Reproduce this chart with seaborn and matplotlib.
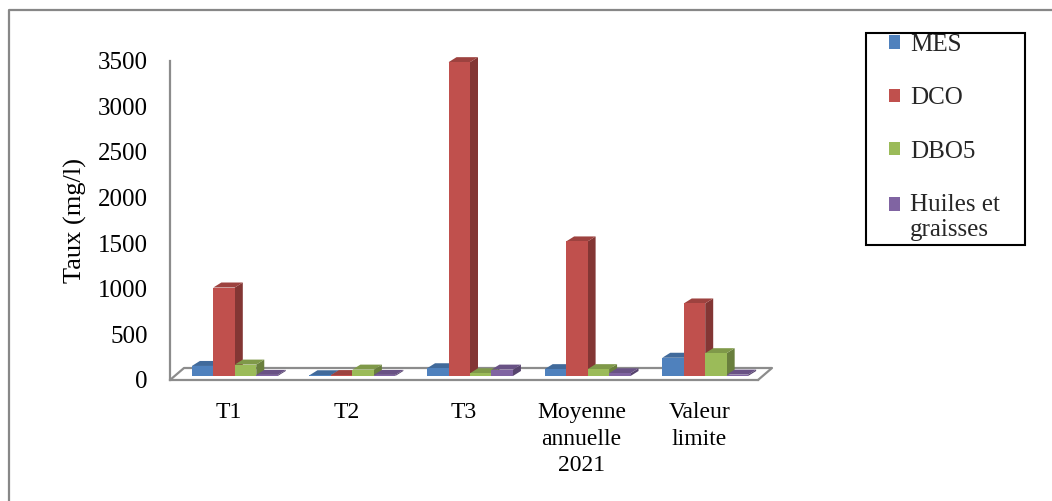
import numpy as np
import pandas as pd
import matplotlib
matplotlib.use("Agg")
import matplotlib.pyplot as plt
import matplotlib.transforms as mtransforms
from matplotlib.patches import Polygon, Patch, Rectangle
from matplotlib.lines import Line2D
from matplotlib.legend_handler import HandlerPatch
import seaborn as sns

# ---- data ----
categories = ["T1", "T2", "T3", "Moyenne\nannuelle\n2021", "Valeur\nlimite"]
series_names = ["MES", "DCO", "DBO5", "Huiles et\ngraisses"]
mes = [110, 8, 85, 75, 200]
dco = [970, 10, 3440, 1475, 795]
dbo5 = [125, 70, 30, 75, 250]
huiles = [12, 12, 70, 30, 15]
colors = ["#4F81BD", "#C0504D", "#9BBB59", "#8064A2"]
yticks = [0, 500, 1000, 1500, 2000, 2500, 3000, 3500]

df = pd.DataFrame({
    "cat": categories * 4,
    "param": sum([[s] * len(categories) for s in series_names], []),
    "val": mes + dco + dbo5 + huiles,
})

sns.set_theme(style="white")
plt.rcParams["font.family"] = ["Liberation Serif", "DejaVu Serif"]

DPI = 100
W, H = 1052, 501
fig = plt.figure(figsize=(W / DPI, H / DPI), dpi=DPI)
ax_l, ax_r, ax_b, ax_t = 170, 758, 380, 60.7
ax = fig.add_axes([ax_l / W, 1 - ax_b / H, (ax_r - ax_l) / W, (ax_b - ax_t) / H])

sns.barplot(data=df, x="cat", y="val", hue="param", order=categories,
            hue_order=series_names, palette=colors, saturation=1,
            width=0.73, ax=ax, legend=False, edgecolor="none", linewidth=0)

ax.set_xlim(-0.5, len(categories) - 0.5)
ax.set_ylim(0, 3500)
ax.set_yticks(yticks)
ax.set_yticklabels([str(v) for v in yticks])
ax.set_xticks(np.arange(-0.5, len(categories), 1.0))
ax.set_xticklabels([])
ax.set_xticks(np.arange(len(categories)), minor=True)
ax.set_xticklabels(categories, minor=True)
ax.tick_params(axis="x", which="minor", length=0, pad=16, labelsize=17, colors="black")
ax.tick_params(axis="x", which="major", length=7, width=1.6, color="#8C8C8C", direction="out")
ax.tick_params(axis="y", length=7, width=1.6, color="#8C8C8C", direction="out", pad=9,
               labelsize=18, labelcolor="black")
for lab in ax.get_xticklabels(minor=True):
    lab.set_linespacing(1.35)
ax.set_xlabel("")
ax.set_ylabel("Taux (mg/l)", fontsize=19, color="black")
ax.yaxis.set_label_coords(-0.142, 0.5)
for s in ["top", "right"]:
    ax.spines[s].set_visible(False)
for s in ["left", "bottom"]:
    ax.spines[s].set_color("#8C8C8C")
    ax.spines[s].set_linewidth(1.6)
ax.patch.set_alpha(0)

# ---- pseudo-3D bars ----
def shade(c, f):
    r, g, b = matplotlib.colors.to_rgb(c)
    return (r * f, g * f, b * f)

px = 1.0 / DPI
shift = mtransforms.ScaledTranslation(6 * px, 4 * px, fig.dpi_scale_trans)
ddx, ddy = 8, 5
ident = mtransforms.IdentityTransform()
bars = [p for p in ax.patches if isinstance(p, matplotlib.patches.Rectangle)]
tr = ax.transData + shift
for p in bars:
    col = p.get_facecolor()
    p.set_transform(tr)
    p.set_zorder(3)
    p.set_clip_on(False)
    x0, w, h = p.get_x(), p.get_width(), p.get_height()
    (X0, Y0), (X1, Y1) = tr.transform([(x0, 0), (x0 + w, h)])
    top = Polygon([(X0, Y1), (X1, Y1), (X1 + ddx, Y1 + ddy), (X0 + ddx, Y1 + ddy)],
                  closed=True, transform=ident, facecolor=shade(col, 0.82),
                  edgecolor="none", zorder=2.5, clip_on=False)
    side = Polygon([(X1, Y0), (X1, Y1), (X1 + ddx, Y1 + ddy), (X1 + ddx, Y0 + ddy)],
                   closed=True, transform=ident, facecolor=shade(col, 0.68),
                   edgecolor="none", zorder=2, clip_on=False)
    ax.add_patch(top)
    ax.add_patch(side)

# ---- floor (back edge + depth edges) ----
fdx, fdy = 14, 12
(FX0, FY0), (FX1, _) = ax.transData.transform([(-0.5, 0), (len(categories) - 0.5, 0)])
floor = Line2D([FX0, FX0 + fdx, FX1 + fdx, FX1], [FY0, FY0 + fdy, FY0 + fdy, FY0],
               transform=ident, color="#8C8C8C", lw=1.6, zorder=1, clip_on=False)
ax.add_line(floor)

# ---- legend ----
def top_square(legend, orig_handle, xdescent, ydescent, width, height, fontsize):
    return Rectangle((-xdescent, -ydescent + 9.5), width, height)

handles = [Patch(facecolor=c, edgecolor="none") for c in colors]
fig.legend(handles, series_names, loc="upper left",
           bbox_to_anchor=(889 / W, 1 - 34 / H), frameon=False, fontsize=18,
           labelspacing=1.25, handlelength=0.45, handleheight=0.45, handletextpad=0.4,
           borderaxespad=0, borderpad=0,
           handler_map={handles[-1]: HandlerPatch(patch_func=top_square)})
fig.add_artist(Rectangle((866 / W, 1 - 245 / H), (1025 - 866) / W, (245 - 33) / H,
                         transform=fig.transFigure, fill=False, edgecolor="black", lw=1.5))

# ---- outer chart border ----
fig.add_artist(Line2D([9 / W, 9 / W, 1.0], [0.0, 1 - 10 / H, 1 - 10 / H],
                      transform=fig.transFigure, color="#878787", lw=1.6))

fig.savefig("out.png", dpi=DPI)
